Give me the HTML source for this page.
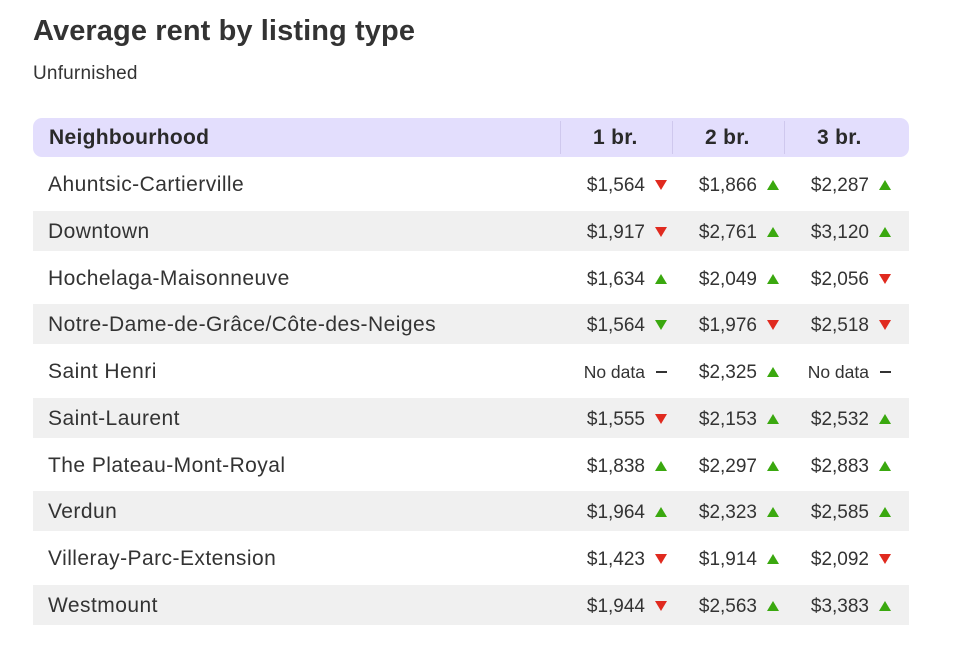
<!DOCTYPE html>
<html><head><meta charset="utf-8"><style>
body{margin:0;width:980px;height:662px;background:#fff;font-family:"Liberation Sans",sans-serif;color:#333;position:relative;overflow:hidden}
.a{position:absolute}
h1{position:absolute;left:33px;top:15px;margin:0;font-size:29px;font-weight:bold;color:#333;letter-spacing:0.1px}
.sub{left:33px;top:63px;font-size:19px;color:#333;letter-spacing:0.2px}
.hdr{left:33px;top:118px;width:876px;height:39px;background:#e3defd;border-radius:9px}
.hdr span{position:absolute;top:8px;font-size:21px;font-weight:bold;color:#2a2a2a;letter-spacing:0.3px}
.div{position:absolute;top:3px;width:1px;height:33px;background:#cfc8ee}
.band{left:33px;width:876px;height:40px;background:#f0f0f0}
.row{left:0;width:980px;height:30px}
.row .n{position:absolute;left:48px;top:4px;font-size:21px;letter-spacing:0.45px}
.v{position:absolute;font-size:19px;top:6px;text-align:right;width:130px}
.t{position:absolute;top:11px;width:0;height:0;border-left:6px solid transparent;border-right:6px solid transparent}
.up{border-bottom:10px solid #3aa80f}
.dn{border-top:10px solid #e02a1f}
.gd{border-top:10px solid #3aa80f}
.dash{position:absolute;top:15px;width:11px;height:2px;background:#333}
</style></head><body>
<h1>Average rent by listing type</h1>
<div class="a sub">Unfurnished</div>
<div class="a hdr">
<span style="left:16px">Neighbourhood</span>
<div class="div" style="left:527px"></div><div class="div" style="left:639px"></div><div class="div" style="left:751px"></div>
<span style="left:560px">1 br.</span><span style="left:672px">2 br.</span><span style="left:784px">3 br.</span>
</div>
<div class="a band" style="top:211px"></div>
<div class="a band" style="top:304px"></div>
<div class="a band" style="top:398px"></div>
<div class="a band" style="top:491px"></div>
<div class="a band" style="top:585px"></div>
<div id="rows"></div>
<script>
var d=[["Ahuntsic-Cartierville","$1,564","dn","$1,866","up","$2,287","up"],
["Downtown","$1,917","dn","$2,761","up","$3,120","up"],
["Hochelaga-Maisonneuve","$1,634","up","$2,049","up","$2,056","dn"],
["Notre-Dame-de-Grâce/Côte-des-Neiges","$1,564","gd","$1,976","dn","$2,518","dn"],
["Saint Henri","No data","-","$2,325","up","No data","-"],
["Saint-Laurent","$1,555","dn","$2,153","up","$2,532","up"],
["The Plateau-Mont-Royal","$1,838","up","$2,297","up","$2,883","up"],
["Verdun","$1,964","up","$2,323","up","$2,585","up"],
["Villeray-Parc-Extension","$1,423","dn","$1,914","up","$2,092","dn"],
["Westmount","$1,944","dn","$2,563","up","$3,383","up"]];
var h="";var xs=[655,767,879];
d.forEach(function(r,i){var y=169+i*46.75;
h+='<div class="a row" style="top:'+y+'px"><span class="n">'+r[0]+'</span>';
for(var c=0;c<3;c++){var v=r[1+2*c],t=r[2+2*c],x=xs[c];
var nd=v=="No data";
h+='<span class="v" style="left:'+(x-140)+'px;'+(nd?'font-size:17.5px;top:6px;':'')+'">'+v+'</span>';
if(t=="-")h+='<div class="dash" style="left:'+(x+1)+'px"></div>';
else h+='<div class="t '+t+'" style="left:'+x+'px"></div>';}
h+='</div>';});
document.getElementById("rows").innerHTML=h;
</script>
</body></html>
